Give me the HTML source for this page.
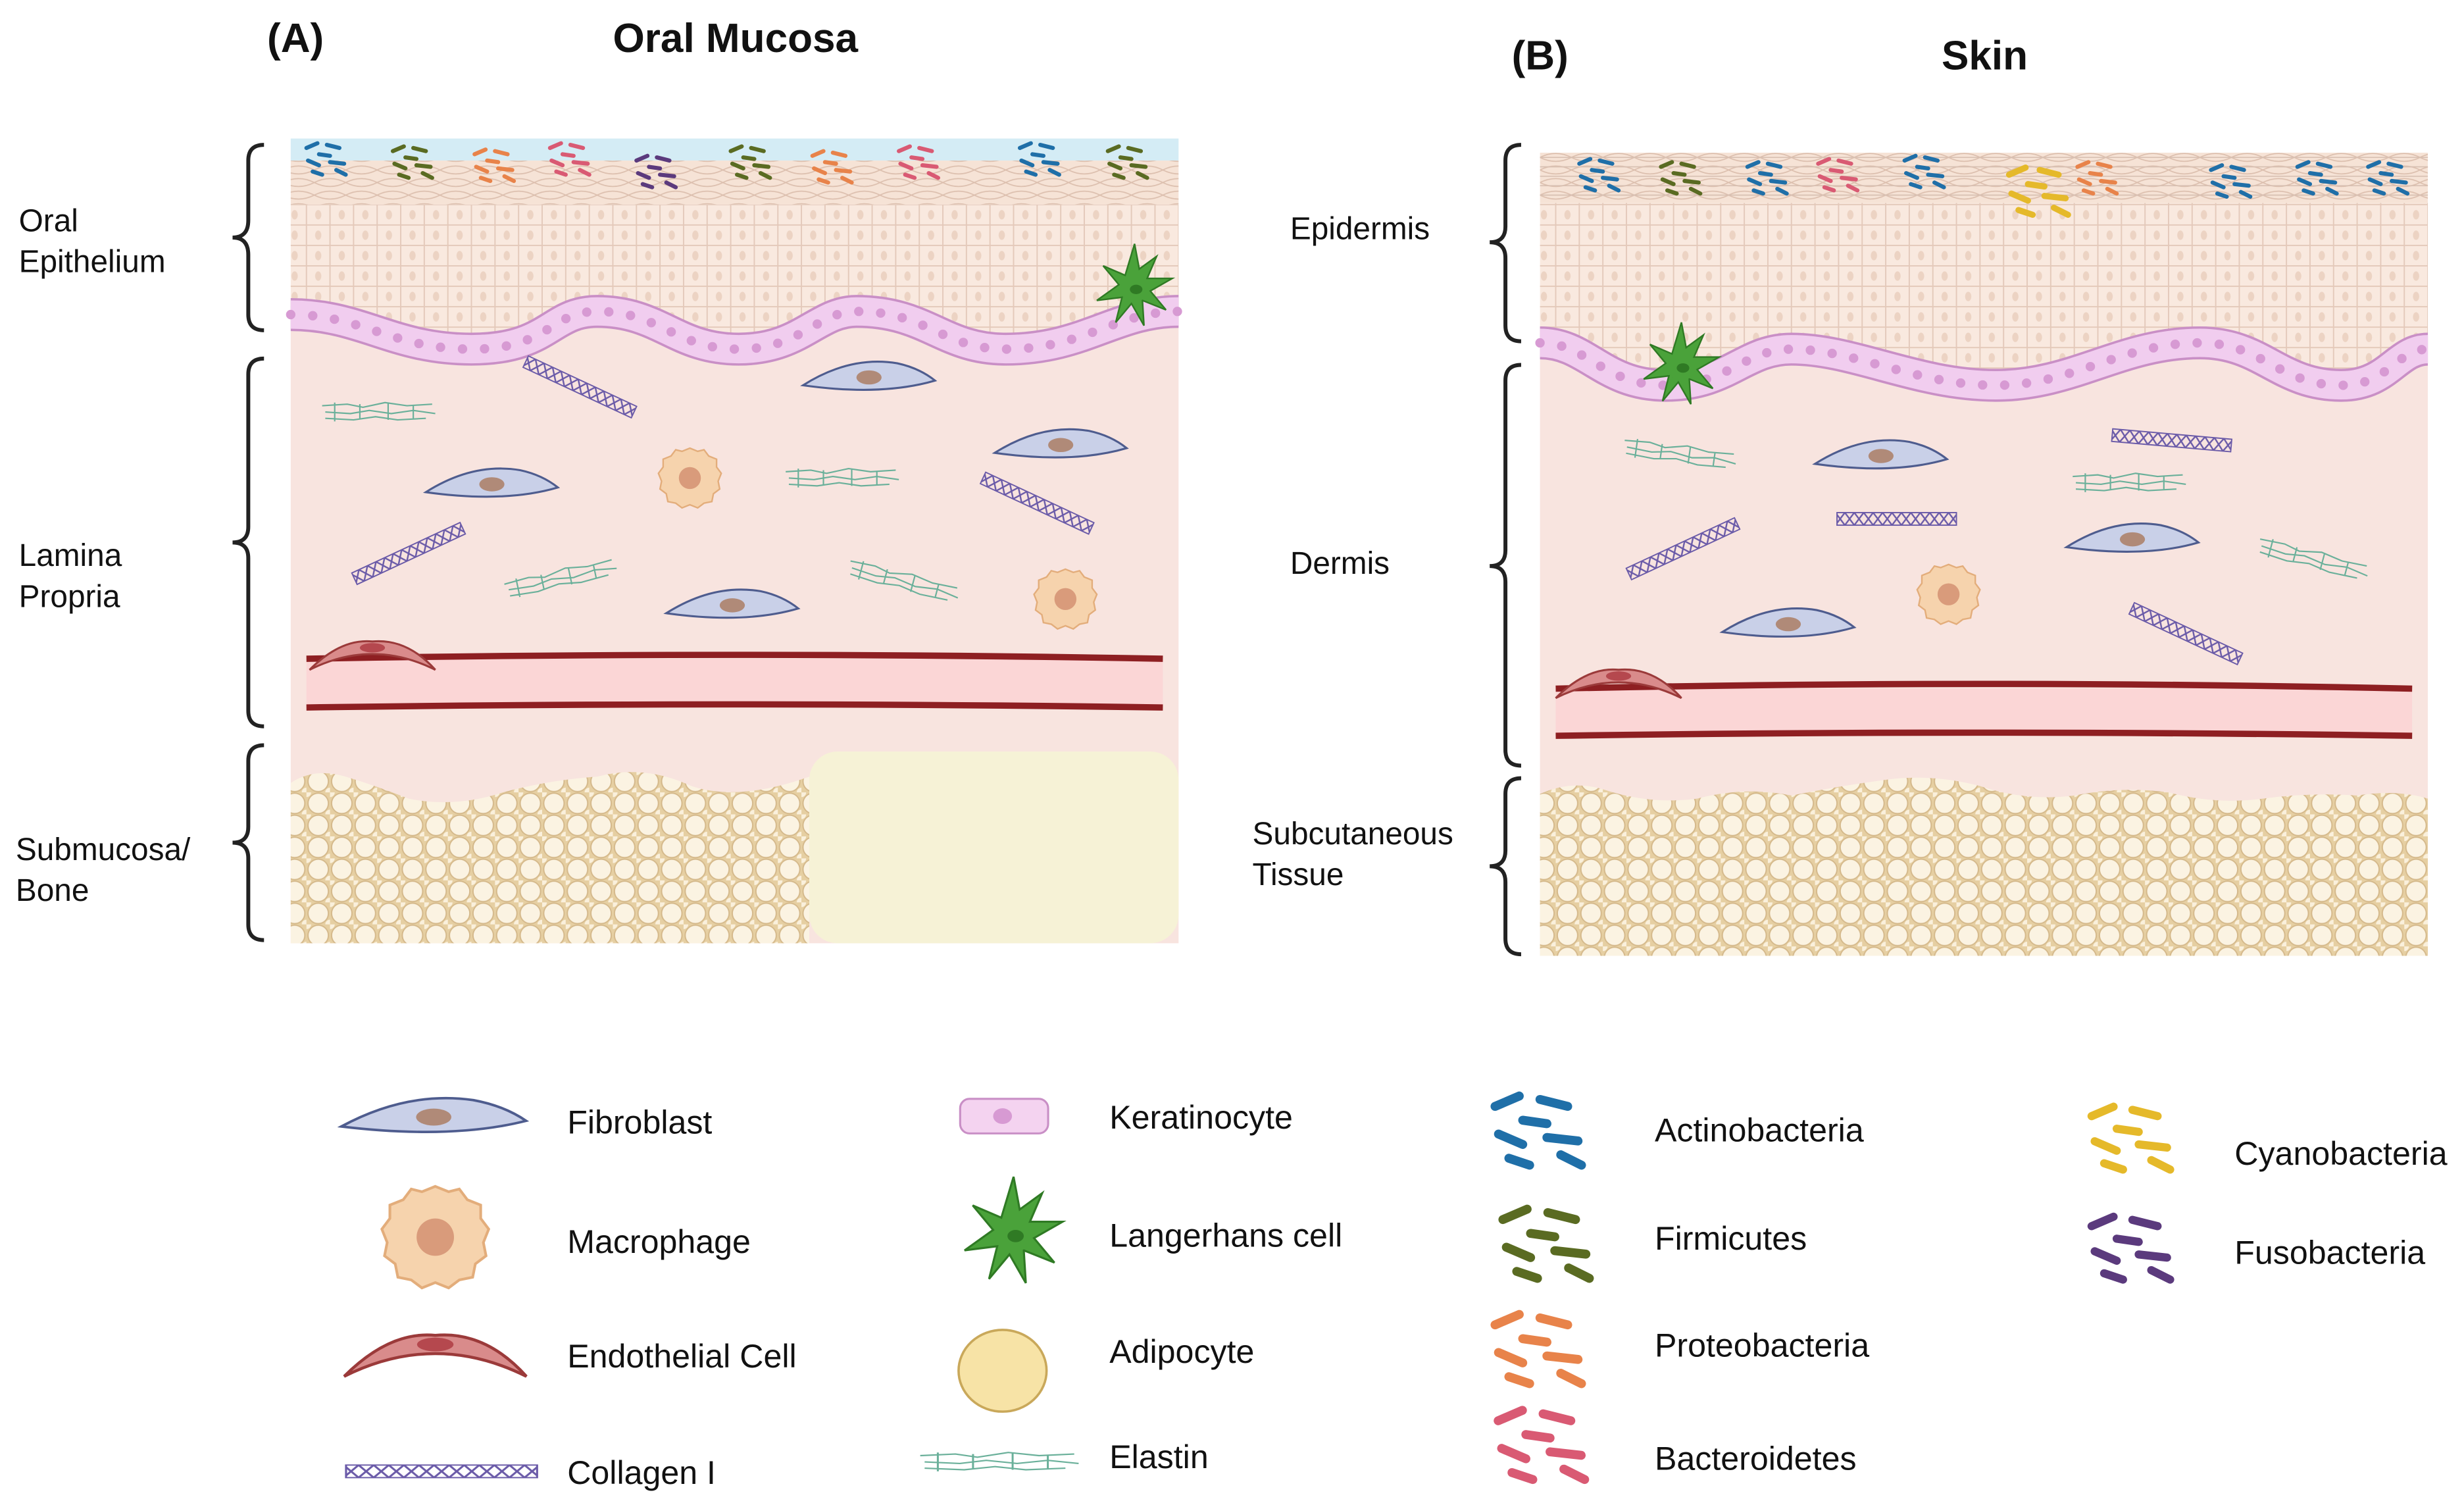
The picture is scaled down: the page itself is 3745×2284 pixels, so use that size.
<!DOCTYPE html>
<html><head><meta charset="utf-8"><style>
html,body{margin:0;padding:0;background:#fff;}
svg{display:block;}
text{font-family:"Liberation Sans",sans-serif;fill:#111;}
</style></head><body>
<svg width="3745" height="2284" viewBox="0 0 1568 956" xmlns="http://www.w3.org/2000/svg">
<defs>
<pattern id="cells" width="15" height="13" patternUnits="userSpaceOnUse">
<rect width="15" height="13" fill="#f9e9df" stroke="#e4c9ba" stroke-width="0.8"/>
<ellipse cx="7.5" cy="6.5" rx="2" ry="3" fill="#ecd3c3"/>
</pattern>
<pattern id="squam" width="20" height="8" patternUnits="userSpaceOnUse">
<rect width="20" height="8" fill="#f6e3d6"/>
<path d="M0,4 Q10,-1 20,4 M0,4 Q10,9 20,4" fill="none" stroke="#dcbfae" stroke-width="0.7"/>
</pattern>
<pattern id="fat" width="15" height="14" patternUnits="userSpaceOnUse">
<rect width="15" height="14" fill="#e6cfa2"/>
<circle cx="7.5" cy="7" r="6.5" fill="#fbf3e2" stroke="#d4b88a" stroke-width="0.8"/>
<circle cx="0" cy="0" r="3" fill="#faf0dc"/>
<circle cx="15" cy="14" r="3" fill="#faf0dc"/>
</pattern>
<pattern id="helix" width="6" height="8" patternUnits="userSpaceOnUse">
<path d="M0,0 L6,8 M6,0 L0,8" stroke="#6a5aa8" stroke-width="1"/>
</pattern>
<g id="fib"><path d="M-42,3 Q-12,-16 18,-11 Q32,-8 42,0 Q8,10 -42,3 Z" fill="#c9d0e8" stroke="#4e5c8e" stroke-width="1.3"/><ellipse cx="0" cy="-2" rx="8" ry="4.5" fill="#b08a78"/></g>
<g id="mac"><path d="M0,-19 L5,-17 L9,-18 L12,-14 L17,-12 L17,-7 L20,-3 L18,2 L19,7 L15,10 L14,15 L9,16 L5,19 L0,17 L-5,19 L-9,16 L-14,15 L-15,10 L-19,7 L-18,2 L-20,-3 L-17,-7 L-17,-12 L-12,-14 L-9,-18 L-5,-17 Z" fill="#f6d3ad" stroke="#e3ad7b" stroke-width="1"/><circle cx="0" cy="0" r="7" fill="#d99b7b"/></g>
<g id="col"><rect x="-38" y="-4" width="76" height="8" fill="url(#helix)" stroke="#6a5aa8" stroke-width="0.8"/></g>
<g id="ela" fill="none" stroke="#6ab09a" stroke-width="0.9"><path d="M-36,-4 L-20,-5 L-10,-3 L4,-6 L18,-4 L34,-5 M-34,0 L-18,1 L-6,-1 L8,1 L22,-1 L36,1 M-34,4 L-16,5 L-2,3 L12,5 L30,4 M-28,-6 L-28,6 M-12,-5 L-12,4 M6,-6 L6,5 M22,-4 L22,4"/></g>
<g id="endo"><path d="M-40,8 Q-20,-12 0,-10 Q22,-12 40,8 Q20,-2 0,-2 Q-20,-2 -40,8 Z" fill="#d98b8b" stroke="#9b3a3a" stroke-width="1.3"/><ellipse cx="0" cy="-6" rx="8" ry="3" fill="#b5484e"/></g>
<g id="lang"><path d="M0,-28 L3,-12 L14,-20 L8,-6 L24,-6 L10,2 L20,14 L5,8 L6,24 L-2,10 L-12,22 L-8,6 L-24,8 L-10,-2 L-20,-14 L-6,-8 Z" fill="#4aa23a" stroke="#2f7a24" stroke-width="1"/><circle cx="0" cy="0" r="9" fill="#4aa23a"/><ellipse cx="1" cy="1" rx="4" ry="3" fill="#2f7a24"/></g>
<g id="bac" fill="none" stroke="currentColor" stroke-width="2.6" stroke-linecap="round"><path d="M-13,-6 L-6,-9 M0,-8 L8,-6 M-12,2 L-5,5 M2,3 L11,4 M-5,-2 L2,-1 M6,8 L12,11 M-9,9 L-3,11"/></g>
</defs>

<text x="170" y="33" font-size="26" font-weight="bold">(A)</text>
<text x="468" y="33" font-size="26" font-weight="bold" text-anchor="middle">Oral Mucosa</text>
<text x="962" y="44" font-size="26" font-weight="bold">(B)</text>
<text x="1263" y="44" font-size="26" font-weight="bold" text-anchor="middle">Skin</text>

<!-- Panel A -->
<rect x="185" y="190" width="565" height="410" fill="#f8e4df"/>
<rect x="185" y="88" width="565" height="14" fill="#d4ecf5"/>
<rect x="185" y="102" width="565" height="28" fill="url(#squam)"/>
<path d="M185,130 L750,130 L750,198 C710,198 690,222 640,222 C600,222 590,198 545,198 C520,198 510,222 470,222 C430,222 420,198 380,198 C350,198 350,222 300,222 C250,222 230,200 185,200 Z" fill="url(#cells)"/>
<path d="M185,200 C230,200 250,222 300,222 C350,222 350,198 380,198 C420,198 430,222 470,222 C510,222 520,198 545,198 C590,198 600,222 640,222 C690,222 710,198 750,198" fill="none" stroke="#c98fc6" stroke-width="21"/>
<path d="M185,200 C230,200 250,222 300,222 C350,222 350,198 380,198 C420,198 430,222 470,222 C510,222 520,198 545,198 C590,198 600,222 640,222 C690,222 710,198 750,198" fill="none" stroke="#f1cdef" stroke-width="18"/>
<path d="M185,200 C230,200 250,222 300,222 C350,222 350,198 380,198 C420,198 430,222 470,222 C510,222 520,198 545,198 C590,198 600,222 640,222 C690,222 710,198 750,198" fill="none" stroke="#d79ad3" stroke-width="6" stroke-dasharray="0 14" stroke-linecap="round"/>
<use href="#bac" x="208" y="100" style="color:#1f6fa8"/>
<use href="#bac" x="263" y="102" style="color:#5a6b22"/>
<use href="#bac" x="315" y="104" style="color:#e8834a"/>
<use href="#bac" x="363" y="100" style="color:#d95a73"/>
<use href="#bac" x="418" y="108" style="color:#5b3a7d"/>
<use href="#bac" x="478" y="102" style="color:#5a6b22"/>
<use href="#bac" x="530" y="105" style="color:#e8834a"/>
<use href="#bac" x="585" y="102" style="color:#d95a73"/>
<use href="#bac" x="662" y="100" style="color:#1f6fa8"/>
<use href="#bac" x="718" y="102" style="color:#5a6b22"/>
<use href="#lang" x="722" y="183"/>
<use href="#fib" x="553" y="242"/><use href="#fib" x="675" y="285"/><use href="#fib" x="313" y="310"/><use href="#fib" x="466" y="387"/>
<use href="#mac" x="439" y="304"/><use href="#mac" x="678" y="381"/>
<use href="#col" transform="translate(369,246) rotate(25)"/>
<use href="#col" transform="translate(660,320) rotate(25)"/>
<use href="#col" transform="translate(260,352) rotate(-25)"/>
<use href="#ela" x="241" y="262"/><use href="#ela" x="536" y="304"/>
<use href="#ela" transform="translate(357,368) rotate(-12)"/>
<use href="#ela" transform="translate(575,370) rotate(15)"/>
<rect x="195" y="419" width="545" height="31" fill="#fbd6d6"/>
<path d="M195,419 Q470,414 740,419" stroke="#8e1f22" stroke-width="4" fill="none"/>
<path d="M195,450 Q470,446 740,450" stroke="#8e1f22" stroke-width="4" fill="none"/>
<use href="#endo" x="237" y="418"/>
<path d="M185,498 Q200,488 220,494 Q240,500 260,508 Q290,514 320,504 Q350,496 380,494 Q410,486 440,500 Q470,510 515,494 L515,600 L185,600 Z" fill="url(#fat)"/>
<rect x="515" y="478" width="235" height="122" rx="18" fill="#f6f2d6"/>

<!-- Panel B -->
<rect x="980" y="215" width="565" height="393" fill="#f8e4df"/>
<rect x="980" y="97" width="565" height="32" fill="url(#squam)"/>
<path d="M980,100 L1545,100 M980,106 L1545,106 M980,112 L1545,112 M980,118 L1545,118 M980,124 L1545,124" stroke="#d8c0b2" stroke-width="0.7"/>
<path d="M980,129 L1545,129 L1545,222 C1525,222 1520,245 1490,245 C1450,245 1440,218 1400,218 C1350,218 1320,245 1270,245 C1220,245 1180,222 1140,222 C1110,222 1100,245 1060,245 C1020,245 1010,218 980,218 Z" fill="url(#cells)"/>
<path d="M980,218 C1010,218 1020,245 1060,245 C1100,245 1110,222 1140,222 C1180,222 1220,245 1270,245 C1320,245 1350,218 1400,218 C1440,218 1450,245 1490,245 C1520,245 1525,222 1545,222" fill="none" stroke="#c98fc6" stroke-width="21"/>
<path d="M980,218 C1010,218 1020,245 1060,245 C1100,245 1110,222 1140,222 C1180,222 1220,245 1270,245 C1320,245 1350,218 1400,218 C1440,218 1450,245 1490,245 C1520,245 1525,222 1545,222" fill="none" stroke="#f1cdef" stroke-width="18"/>
<path d="M980,218 C1010,218 1020,245 1060,245 C1100,245 1110,222 1140,222 C1180,222 1220,245 1270,245 C1320,245 1350,218 1400,218 C1440,218 1450,245 1490,245 C1520,245 1525,222 1545,222" fill="none" stroke="#d79ad3" stroke-width="6" stroke-dasharray="0 14" stroke-linecap="round"/>
<use href="#bac" x="1018" y="110" style="color:#1f6fa8"/>
<use href="#bac" x="1070" y="112" style="color:#5a6b22"/>
<use href="#bac" x="1125" y="112" style="color:#1f6fa8"/>
<use href="#bac" x="1170" y="110" style="color:#d95a73"/>
<use href="#bac" x="1225" y="108" style="color:#1f6fa8"/>
<use href="#bac" transform="translate(1298,120) scale(1.5)" style="color:#e5b92a"/>
<use href="#bac" x="1335" y="112" style="color:#e8834a"/>
<use href="#bac" x="1420" y="114" style="color:#1f6fa8"/>
<use href="#bac" x="1475" y="112" style="color:#1f6fa8"/>
<use href="#bac" x="1520" y="112" style="color:#1f6fa8"/>
<use href="#lang" x="1070" y="233"/>
<use href="#fib" x="1197" y="292"/><use href="#fib" x="1357" y="345"/><use href="#fib" x="1138" y="399"/>
<use href="#mac" x="1240" y="378"/>
<use href="#col" transform="translate(1071,349) rotate(-25)"/>
<use href="#col" transform="translate(1382,280) rotate(5)"/>
<use href="#col" transform="translate(1207,330)"/>
<use href="#col" transform="translate(1391,403) rotate(25)"/>
<use href="#ela" transform="translate(1069,289) rotate(8)"/>
<use href="#ela" x="1355" y="307"/>
<use href="#ela" transform="translate(1472,356) rotate(15)"/>
<rect x="990" y="438" width="545" height="30" fill="#fbd6d6"/>
<path d="M990,438 Q1260,432 1535,438" stroke="#8e1f22" stroke-width="4" fill="none"/>
<path d="M990,468 Q1260,464 1535,468" stroke="#8e1f22" stroke-width="4" fill="none"/>
<use href="#endo" x="1030" y="436"/>
<path d="M980,505 Q1000,496 1020,502 Q1050,512 1080,508 Q1110,500 1140,506 Q1170,500 1200,496 Q1230,492 1260,500 Q1290,510 1320,506 Q1350,500 1380,504 Q1410,512 1440,508 Q1470,504 1500,506 Q1525,502 1545,508 L1545,608 L980,608 Z" fill="url(#fat)"/>

<g fill="none" stroke="#222" stroke-width="2.5">
<path d="M168,92 Q158,92 158,102 L158,140 Q158,151 148,151 Q158,151 158,162 L158,200 Q158,210 168,210"/>
<path d="M168,228 Q158,228 158,238 L158,335 Q158,345 148,345 Q158,345 158,355 L158,452 Q158,462 168,462"/>
<path d="M168,474 Q158,474 158,484 L158,526 Q158,536 148,536 Q158,536 158,546 L158,588 Q158,598 168,598"/>
<path d="M968,92 Q958,92 958,102 L958,144 Q958,154 948,154 Q958,154 958,164 L958,207 Q958,217 968,217"/>
<path d="M968,232 Q958,232 958,242 L958,350 Q958,360 948,360 Q958,360 958,370 L958,477 Q958,487 968,487"/>
<path d="M968,495 Q958,495 958,505 L958,541 Q958,551 948,551 Q958,551 958,561 L958,597 Q958,607 968,607"/>
</g>
<g font-size="20">
<text x="12" y="147">Oral</text><text x="12" y="173">Epithelium</text>
<text x="12" y="360">Lamina</text><text x="12" y="386">Propria</text>
<text x="10" y="547">Submucosa/</text><text x="10" y="573">Bone</text>
<text x="821" y="152">Epidermis</text>
<text x="821" y="365">Dermis</text>
<text x="797" y="537">Subcutaneous</text><text x="797" y="563">Tissue</text>
</g>

<use href="#fib" transform="translate(276,713) scale(1.4,1.2)"/>
<use href="#mac" transform="translate(277,787) scale(1.7)"/>
<use href="#endo" transform="translate(277,864) scale(1.45)"/>
<use href="#col" transform="translate(281,936) scale(1.6,1)"/>
<rect x="611" y="699" width="56" height="22" rx="6" fill="#f4d3f0" stroke="#c98fc6" stroke-width="1.3"/>
<ellipse cx="638" cy="710" rx="6" ry="5" fill="#d79ad3"/>
<use href="#lang" transform="translate(645,785) scale(1.3)"/>
<ellipse cx="638" cy="872" rx="28" ry="26" fill="#f7e3a6" stroke="#c9a85a" stroke-width="1.5"/>
<use href="#ela" transform="translate(636,930) scale(1.4,1)"/>
<use href="#bac" transform="translate(980,717) scale(2.2)" style="color:#1f6fa8"/>
<use href="#bac" transform="translate(985,789) scale(2.2)" style="color:#5a6b22"/>
<use href="#bac" transform="translate(980,856) scale(2.2)" style="color:#e8834a"/>
<use href="#bac" transform="translate(982,917) scale(2.2)" style="color:#d95a73"/>
<use href="#bac" transform="translate(1357,722) scale(2)" style="color:#e5b92a"/>
<use href="#bac" transform="translate(1357,792) scale(2)" style="color:#5b3a7d"/>
<g font-size="21">
<text x="361" y="721">Fibroblast</text>
<text x="361" y="797">Macrophage</text>
<text x="361" y="870">Endothelial Cell</text>
<text x="361" y="944">Collagen I</text>
<text x="706" y="718">Keratinocyte</text>
<text x="706" y="793">Langerhans cell</text>
<text x="706" y="867">Adipocyte</text>
<text x="706" y="934">Elastin</text>
<text x="1053" y="726">Actinobacteria</text>
<text x="1053" y="795">Firmicutes</text>
<text x="1053" y="863">Proteobacteria</text>
<text x="1053" y="935">Bacteroidetes</text>
<text x="1422" y="741">Cyanobacteria</text>
<text x="1422" y="804">Fusobacteria</text>
</g>
</svg>
</body></html>
